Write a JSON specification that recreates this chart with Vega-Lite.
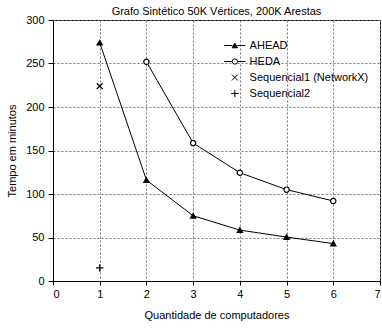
{
  "$schema": "https://vega.github.io/schema/vega-lite/v6.json",
  "autosize": "none",
  "width": 327,
  "height": 261,
  "padding": {"left": 53, "top": 20, "right": 2, "bottom": 48},
  "background": "white",
  "config": {
    "font": "Liberation Sans",
    "view": {"stroke": "black", "strokeWidth": 1},
    "axis": {
      "domainColor": "black",
      "tickColor": "black",
      "labelColor": "black",
      "titleColor": "black",
      "labelFontSize": 11,
      "titleFontSize": 11,
      "titleFontWeight": "normal",
      "gridColor": "#777777",
      "gridDash": [2, 2],
      "gridWidth": 1,
      "labelFont": "Liberation Sans",
      "titleFont": "Liberation Sans"
    },
    "legend": {"labelFont": "Liberation Sans", "labelFontSize": 11, "labelColor": "black", "padding": 0, "rowPadding": 4, "title": null},
    "title": {"fontSize": 11, "fontWeight": "normal", "color": "black", "font": "Liberation Sans", "offset": -3}
  },
  "title": {"text": "Grafo Sintético 50K Vértices, 200K Arestas"},
  "data": {
    "values": [
      {"series": "AHEAD", "x": 1, "y": 274},
      {"series": "AHEAD", "x": 2, "y": 116},
      {"series": "AHEAD", "x": 3, "y": 75},
      {"series": "AHEAD", "x": 4, "y": 58.5},
      {"series": "AHEAD", "x": 5, "y": 50.5},
      {"series": "AHEAD", "x": 6, "y": 43},
      {"series": "HEDA", "x": 2, "y": 252},
      {"series": "HEDA", "x": 3, "y": 158.5},
      {"series": "HEDA", "x": 4, "y": 124.5},
      {"series": "HEDA", "x": 5, "y": 105},
      {"series": "HEDA", "x": 6, "y": 92},
      {"series": "Sequencial1 (NetworkX)", "x": 1, "y": 224},
      {"series": "Sequencial2", "x": 1, "y": 15}
    ]
  },
  "encoding": {
    "x": {
      "field": "x", "type": "quantitative",
      "scale": {"domain": [0, 7], "nice": false, "zero": false},
      "axis": {"values": [0, 1, 2, 3, 4, 5, 6, 7], "format": "d", "tickSize": 4, "labelPadding": 3, "title": "Quantidade de computadores", "titlePadding": 10, "grid": true}
    },
    "y": {
      "field": "y", "type": "quantitative",
      "scale": {"domain": [0, 300], "nice": false},
      "axis": {"values": [0, 50, 100, 150, 200, 250, 300], "tickSize": 5, "labelPadding": 4, "title": "Tempo em minutos", "titlePadding": 8, "grid": true}
    }
  },
  "layer": [
    {
      "transform": [{"filter": "datum.series === 'AHEAD' || datum.series === 'HEDA'"}],
      "mark": {"type": "line", "strokeWidth": 1},
      "encoding": {
        "stroke": {
          "field": "series", "type": "nominal",
          "scale": {"domain": ["AHEAD", "HEDA"], "range": ["black", "black"]},
          "legend": {
            "title": null,
            "orient": "none",
            "legendX": 176.35,
            "legendY": 20,
            "symbolType": "M-4,0L-0.9,0M0.9,0L4,0",
            "symbolSize": 28,
            "symbolStrokeWidth": 1,
            "labelOffset": 9.25,
            "labelOpacity": 0,
            "rowPadding": 4,
            "padding": 0
          }
        }
      }
    },
    {
      "mark": {"type": "point", "filled": false, "color": "black", "strokeWidth": 1.2, "size": 28, "opacity": 1},
      "encoding": {
        "shape": {
          "field": "series", "type": "nominal",
          "scale": {
            "domain": ["AHEAD", "HEDA", "Sequencial1 (NetworkX)", "Sequencial2"],
            "range": ["triangle-up", "circle", "M-1.1,-1.1L1.1,1.1M-1.1,1.1L1.1,-1.1", "M-1.4,0L1.4,0M0,-1.4L0,1.4"]
          },
          "legend": {
            "title": null,
            "orient": "none",
            "legendX": 176.35,
            "legendY": 20,
            "symbolSize": 28,
            "symbolStrokeWidth": 1,
            "labelOffset": 9.25,
            "rowPadding": 4,
            "padding": 0
          }
        },
        "fill": {
          "field": "series", "type": "nominal",
          "scale": {
            "domain": ["AHEAD", "HEDA", "Sequencial1 (NetworkX)", "Sequencial2"],
            "range": ["black", "white", "transparent", "transparent"]
          },
          "legend": {
            "title": null,
            "orient": "none",
            "legendX": 176.35,
            "legendY": 20,
            "symbolSize": 28,
            "symbolStrokeWidth": 1,
            "labelOffset": 9.25,
            "rowPadding": 4,
            "padding": 0
          }
        }
      }
    }
  ]
}
